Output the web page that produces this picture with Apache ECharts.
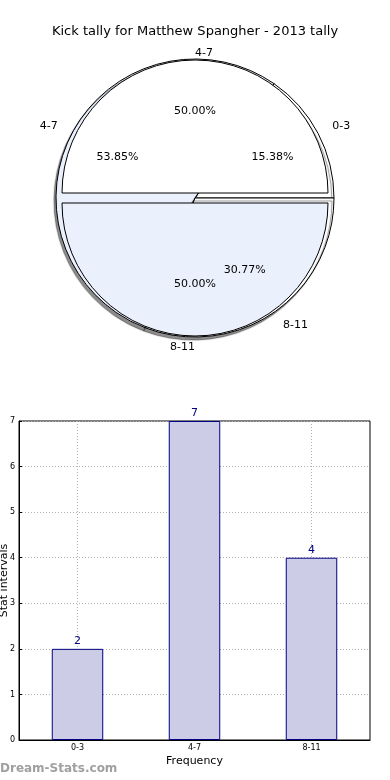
<!DOCTYPE html>
<html>
<head>
<meta charset="utf-8">
<script src="https://cdn.jsdelivr.net/npm/echarts@6/dist/echarts.min.js"></script>
<style>
html,body{margin:0;padding:0;background:#fff;}
#chart{width:390px;height:780px;}
</style>
</head>
<body>
<div id="chart"></div>
<script>
// ---- data ----
const titleText = 'Kick tally for Matthew Spangher - 2013 tally';
const categories = ['0-3', '4-7', '8-11'];
const counts = [2, 7, 4];
const halfCategories = ['4-7', '8-11'];
const halfValues = [50, 50];
const yTicks = [0, 1, 2, 3, 4, 5, 6, 7];
const xAxisName = 'Frequency';
const yAxisName = 'Stat intervals';
const watermark = 'Dream-Stats.com';

const FONT = 'DejaVu Sans';
const WHITE = '#ffffff';
const LIGHT = '#eaf0fc';
const fillB = [WHITE, LIGHT, WHITE];
const fillA = [WHITE, LIGHT];
const alignA = ['left', 'right'];
const nudgeA = [0, 4];
const center = [195, 198];
const rA = 133, rB = 139;

const chart = echarts.init(document.getElementById('chart'), null, {renderer: 'canvas'});

const pieBData = categories.map((c, i) => ({
  name: c, value: counts[i],
  itemStyle: {color: fillB[i]}
}));
const pieAData = halfCategories.map((c, i) => ({
  name: c, value: halfValues[i], selected: true,
  itemStyle: {color: fillA[i]}
}));
const pctFmt = p => p.percent.toFixed(2) + '%';

const option = {
  animation: false,
  textStyle: {fontFamily: FONT},
  title: {
    text: titleText, left: 'center', top: 20,
    textStyle: {fontFamily: FONT, fontSize: 13, fontWeight: 'normal', color: '#000'}
  },
  grid: {left: 19, right: 20, top: 421, bottom: 40, containLabel: false, outerBoundsMode: 'none',
         show: true, borderColor: '#000', borderWidth: 1, backgroundColor: 'transparent'},
  xAxis: {
    type: 'category', data: categories,
    name: xAxisName, nameLocation: 'middle', nameGap: 16, nameMoveOverlap: false,
    nameTextStyle: {fontFamily: FONT, fontSize: 11, color: '#000'},
    axisLine: {show: true, lineStyle: {color: '#000'}},
    axisTick: {show: true, inside: true, alignWithLabel: true, length: 3, lineStyle: {color: '#000'}},
    axisLabel: {fontFamily: FONT, fontSize: 8, color: '#000', margin: 4},
    splitLine: {show: true, alignWithLabel: true, lineStyle: {color: '#b0b0b0', type: [1, 2]}}
  },
  yAxis: {
    type: 'value', min: yTicks[0], max: yTicks[yTicks.length - 1], interval: 1,
    name: yAxisName, nameLocation: 'middle', nameGap: 9, nameRotate: 90, nameMoveOverlap: false,
    nameTextStyle: {fontFamily: FONT, fontSize: 11, color: '#000'},
    axisLine: {show: true, lineStyle: {color: '#000'}},
    axisTick: {show: true, inside: true, length: 3, lineStyle: {color: '#000'}},
    axisLabel: {fontFamily: FONT, fontSize: 8, color: '#000', margin: 4},
    splitLine: {show: true, lineStyle: {color: '#b0b0b0', type: [1, 2]}}
  },
  series: [
    {
      type: 'pie', center: center, radius: rB, z: 1,
      clockwise: false, startAngle: 0, avoidLabelOverlap: false, silent: true,
      data: pieBData,
      itemStyle: {borderColor: '#000', borderWidth: 1, shadowColor: 'rgba(0,0,0,0.45)', shadowBlur: 1, shadowOffsetX: -2, shadowOffsetY: 3},
      label: {show: true, position: 'outside', fontFamily: FONT, fontSize: 11, color: '#000', distanceToLabelLine: 0},
      labelLine: {show: false, length: 16, length2: 0},
      emphasis: {disabled: true}
    },
    {
      type: 'pie', center: center, radius: rA, z: 2,
      clockwise: false, startAngle: 0, avoidLabelOverlap: false, silent: true,
      selectedMode: 'multiple', selectedOffset: 5,
      data: pieAData,
      itemStyle: {borderColor: '#000', borderWidth: 1},
      label: {show: true, position: 'outside', fontFamily: FONT, fontSize: 11, color: '#000', distanceToLabelLine: 0},
      labelLine: {show: false, length: 7, length2: 0},
      labelLayout: function (p) { return {align: alignA[p.dataIndex], dy: nudgeA[p.dataIndex]}; },
      emphasis: {disabled: true}, select: {itemStyle: {borderColor: '#000', borderWidth: 1}}
    },
    {
      type: 'pie', center: center, radius: [30, rB], z: 3,
      clockwise: false, startAngle: 0, avoidLabelOverlap: false, silent: true,
      data: categories.map((c, i) => ({name: c, value: counts[i]})),
      itemStyle: {color: 'rgba(0,0,0,0)', borderWidth: 0},
      label: {show: true, position: 'inside', formatter: pctFmt, fontFamily: FONT, fontSize: 11, color: '#000'},
      labelLine: {show: false},
      emphasis: {disabled: true}
    },
    {
      type: 'pie', center: center, radius: [24, rA], z: 3,
      clockwise: false, startAngle: 0, avoidLabelOverlap: false, silent: true,
      selectedMode: 'multiple', selectedOffset: 5,
      data: halfCategories.map((c, i) => ({name: c, value: halfValues[i], selected: true})),
      itemStyle: {color: 'rgba(0,0,0,0)', borderWidth: 0},
      label: {show: true, position: 'inside', formatter: pctFmt, fontFamily: FONT, fontSize: 11, color: '#000'},
      labelLine: {show: false},
      emphasis: {disabled: true}, select: {itemStyle: {color: 'rgba(0,0,0,0)', borderWidth: 0}}
    },
    {
      type: 'bar', data: counts, barWidth: '44%',
      itemStyle: {color: '#ccccE6', borderColor: '#000080', borderWidth: 1},
      label: {show: true, position: 'top', distance: 2, fontFamily: FONT, fontSize: 11, color: '#000080'},
      emphasis: {disabled: true}
    }
  ],
  graphic: [{
    type: 'text', left: 0, top: 763,
    style: {text: watermark, fontFamily: FONT, fontSize: 12, fontWeight: 'bold', fill: '#a0a0a0'}
  }]
};
chart.setOption(option);
</script>
</body>
</html>
